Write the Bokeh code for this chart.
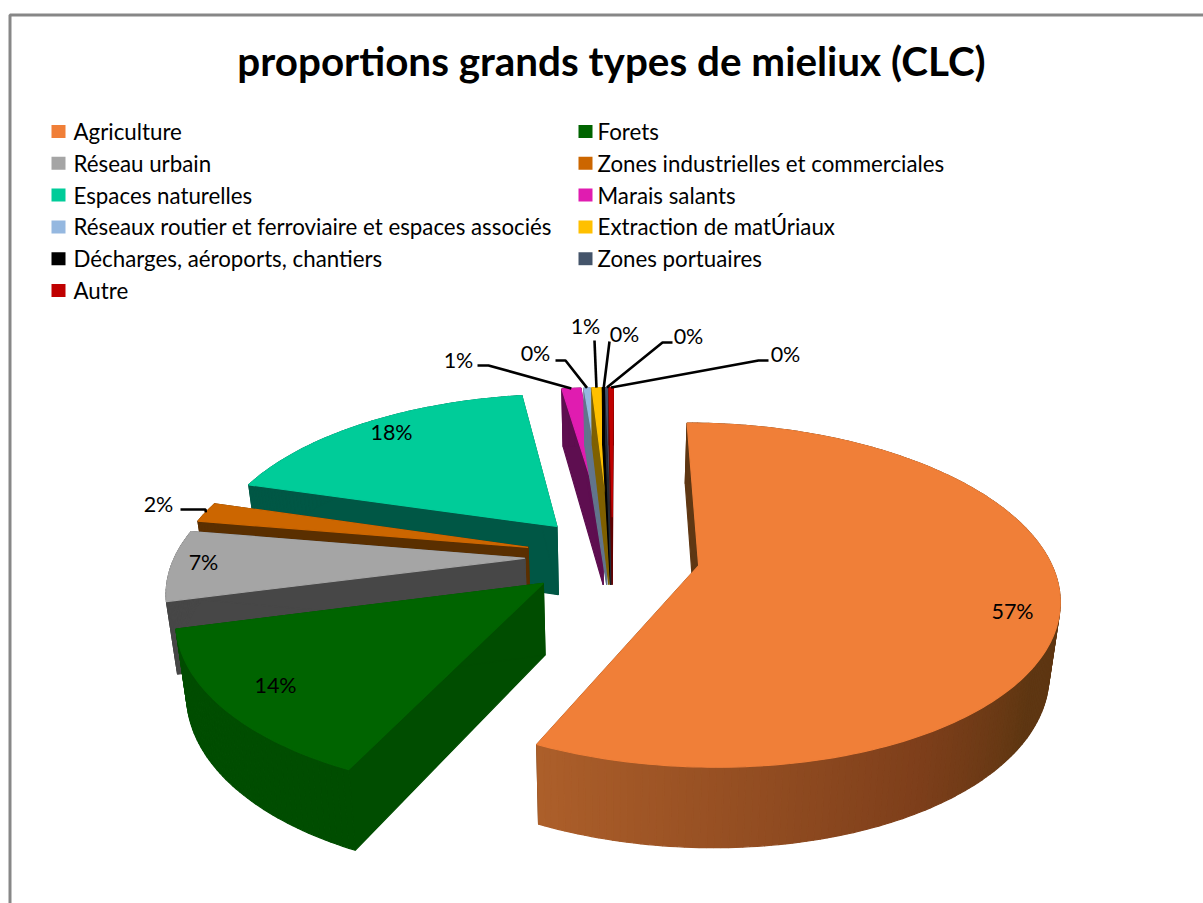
import numpy as np
from bokeh.plotting import figure
from bokeh.models import Range1d
from bokeh.core.properties import value
from bokeh.embed import file_html
from bokeh.resources import INLINE

# ---- data -------------------------------------------------------------
title = "proportions grands types de mieliux (CLC)"
categories = ["Agriculture", "Forets", "Réseau urbain", "Zones industrielles et commerciales",
              "Espaces naturelles", "Marais salants",
              "Réseaux routier et ferroviaire et espaces associés", "Extraction de matÚriaux",
              "Décharges, aéroports, chantiers", "Zones portuaires", "Autre"]
shares = [56.7, 13.9, 6.7, 1.9, 18.0, 1.05, 0.33, 0.5, 0.14, 0.14, 0.23]
labels = ["57%", "14%", "7%", "2%", "18%", "1%", "0%", "1%", "0%", "0%", "0%"]

# ---- styles -----------------------------------------------------------
top_colors = ["#F07F38", "#006400", "#A5A5A5", "#CC6600", "#00CC99", "#E01CB0",
              "#95B8E0", "#FFC000", "#000000", "#44546A", "#C00000"]
side_colors = ["#5F3713", "#004D00", "#474747", "#5A2F00", "#005745", "#5E0E50",
               "#62758C", "#7F6000", "#000000", "#222A35", "#600000"]
draw_order = [5, 6, 7, 8, 9, 10, 4, 3, 2, 1, 0]
orange_wall = [(90, (94, 54, 18)), (125, (95, 55, 18)), (150, (126, 63, 27)), (206, (174, 96, 43))]

# ---- layout -----------------------------------------------------------
CX, CY, FX, FY, K, EXPLODE = 612, 556, 350, 163.9, 0.17, 0.25
START = 0.2
SHRINK = 0.025
label_inside = {0: (1012, 612), 1: (275, 686), 2: (203, 563), 4: (391, 433)}
label_outside = {3: (158, 505), 5: (458, 361), 6: (535, 354), 7: (585, 327),
                 8: (624, 335), 9: (688, 337), 10: (785, 355)}
leader_paths = {3: [(180, 509), (205, 509)], 5: [(477, 365), (488, 365)], 6: [(555, 360), (565, 360)],
                7: [(594, 340)], 8: [(609, 341)], 9: [(672, 342), (662, 342)], 10: [(768, 360), (758, 360)]}


def project(U, V, h=0.0):
    s = 1.0 / (1.0 - K * V)
    return CX + FX * U * s * (1 - SHRINK * h), CY + FY * V * s + h * (70 + 10 * V)


p = figure(width=1203, height=903, x_range=Range1d(0, 1203), y_range=Range1d(903, 0),
           output_backend="svg", toolbar_location=None, min_border=0,
           x_axis_type=None, y_axis_type=None, outline_line_color=None)
p.grid.visible = False
p.background_fill_color = "#FFFFFF"
p.border_fill_color = "#FFFFFF"

# frame
p.line([9.5, 9.5, 1203], [903, 14.5, 14.5], line_color="#878787", line_width=3)

xs_all, ys_all, col_all = [], [], []


def poly(xs, ys, c):
    xs_all.append(list(xs)); ys_all.append(list(ys)); col_all.append(c)


fractions = np.array(shares) / np.sum(shares)
edges = START + 360 * np.concatenate([[0], np.cumsum(fractions)])
mids = {}

for i in draw_order:
    a0, a1 = edges[i], edges[i + 1]
    mid = np.radians((a0 + a1) / 2)
    eU, eV = EXPLODE * np.sin(mid), -EXPLODE * np.cos(mid)
    n = max(3, int(a1 - a0))
    ang = np.radians(np.linspace(a0, a1, n + 1))
    U = eU + np.sin(ang)
    V = eV - np.cos(ang)
    ax, ay = project(eU, eV)
    bx, by = project(eU, eV, 1)
    tx, ty = project(U, V)
    wx, wy = project(U, V, 1)
    mids[i] = project(eU + np.sin(mid), eV - np.cos(mid))
    # radial cut faces
    for j in (0, -1):
        poly([ax, tx[j], wx[j], bx], [ay, ty[j], wy[j], by], side_colors[i])
    # outer wall
    for j in range(n):
        c = side_colors[i]
        if i == 0:
            deg = np.degrees((ang[j] + ang[j + 1]) / 2)
            stops = [s[0] for s in orange_wall]
            rgb = [np.interp(deg, stops, [s[1][k] for s in orange_wall]) for k in range(3)]
            c = "#%02X%02X%02X" % tuple(int(v) for v in rgb)
        poly([tx[j], tx[j + 1], wx[j + 1], wx[j]], [ty[j], ty[j + 1], wy[j + 1], wy[j]], c)
    # top face
    poly([ax, *tx], [ay, *ty], top_colors[i])

p.patches(xs_all, ys_all, fill_color=col_all, line_color=col_all, line_width=1.2)

# leaders
for i, path in leader_paths.items():
    px = [q[0] for q in path] + [mids[i][0]]
    py = [q[1] for q in path] + [mids[i][1]]
    p.line(px, py, line_color="#000000", line_width=2.6)

font = value("Lato")
for d in (label_inside, label_outside):
    for i, (x, y) in d.items():
        p.text([x], [y - 2], text=[labels[i]], text_font=font, text_font_size="21.5px",
               text_align="center", text_baseline="middle", text_color="#000000")

# title
p.text([611], [60], text=[title], text_font=font, text_font_size="40.4px", text_font_style="bold",
       text_align="center", text_baseline="middle", text_color="#000000")

# legend
for i, name in enumerate(categories):
    row, col = i // 2, i % 2
    x = 51 + col * 527
    y = 131 + row * 31.8
    p.quad(left=[x], right=[x + 14], top=[y - 6.5], bottom=[y + 6.5], fill_color=top_colors[i], line_color=None)
    p.text([x + 22 - col * 3], [y], text=[name], text_font=font, text_font_size="22.3px",
           text_align="left", text_baseline="middle", text_color="#000000")

open("out.html", "w").write(file_html(p, INLINE))
